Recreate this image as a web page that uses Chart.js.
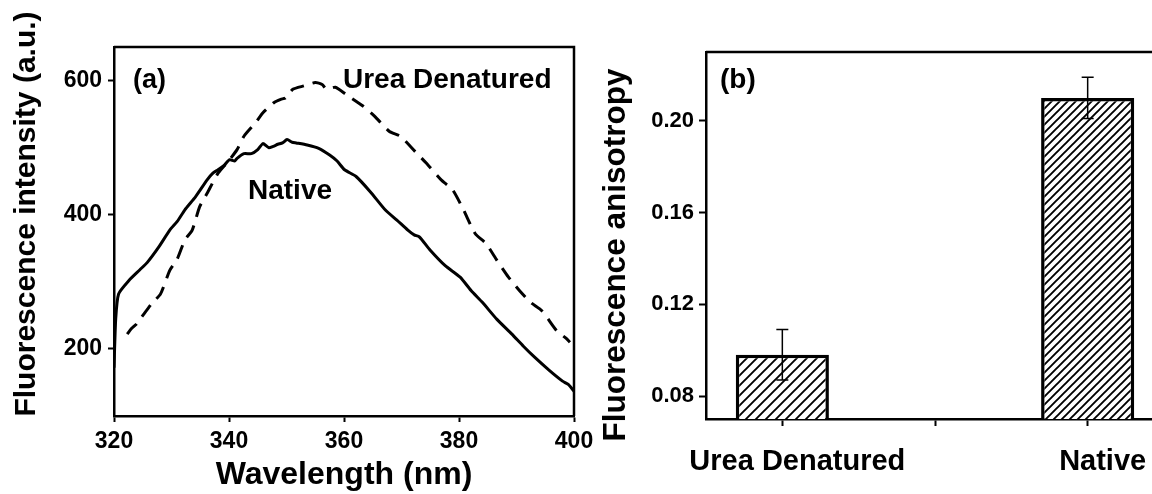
<!DOCTYPE html>
<html>
<head>
<meta charset="utf-8">
<script src="https://cdn.jsdelivr.net/npm/chart.js@4.4.1/dist/chart.umd.min.js"></script>
<style>
  html, body { margin: 0; padding: 0; background: #fff; overflow: hidden; }
  #wrap { position: relative; width: 1152px; height: 494px; overflow: hidden; }
  #spectra { position: absolute; left: 0; top: 0; }
  #aniso { position: absolute; left: 585px; top: 0; }
</style>
</head>
<body>
<div id="wrap">
  <canvas id="spectra" width="600" height="494"></canvas>
  <canvas id="aniso" width="600" height="494"></canvas>
</div>
<script>
// emission spectra (a)
const nativeWl = [320.0, 320.3, 320.8, 322.6, 324.5, 325.8, 327.8, 329.7, 331.0, 332.3, 334.2, 336.2, 337.2, 338.1, 339.2,
  340.1, 341.0, 341.4, 342.6, 343.9, 345.0, 345.9, 346.9, 347.7, 348.5, 349.3, 350.1, 351.0, 351.7, 353.6, 355.6, 357.5,
  358.8, 360.1, 362.1, 364.6, 367.2, 369.2, 371.1, 372.2, 373.1, 375.0, 377.6, 380.2, 382.1, 384.1, 386.6, 389.2, 391.2,
  393.1, 395.7, 398.0, 399.0, 400.0];
const nativeInt = [172, 245, 282, 302, 318, 329, 352, 377, 390, 407, 427, 452, 462, 467, 474,
  482, 480, 484, 491, 491, 497, 506, 500, 502, 505, 507, 512, 508, 507, 504, 499, 489,
  480, 467, 457, 434, 407, 392, 377, 370, 367, 347, 324, 307, 287, 269, 244, 222, 204,
  188, 168, 152, 147, 137];

const ureaWl = [322.3, 323.0, 323.9, 326.5, 328.1, 329.7, 331.0, 332.3, 333.6, 334.9, 336.2, 338.1, 340.1, 341.4, 342.6,
  344.6, 345.9, 347.8, 349.0, 349.8, 351.1, 353.0, 355.0, 356.2, 357.0, 358.5, 360.4, 363.3, 365.3, 367.9, 369.8, 372.4,
  374.3, 376.9, 378.9, 380.8, 382.8, 384.7, 386.6, 388.6, 390.5, 392.5, 394.4, 397.0, 398.6, 399.3];
const ureaInt = [222, 230, 237, 267, 282, 317, 334, 362, 377, 412, 432, 462, 482, 497, 517,
  537, 552, 567, 572, 574, 587, 592, 597, 594, 587, 590, 579, 562, 547, 524, 517, 494,
  477, 452, 437, 407, 372, 357, 332, 307, 287, 269, 257, 227, 216, 210];

const wlTicks = [320, 340, 360, 380, 400];
const intTicks = [200, 400, 600];

// anisotropy (b)
const states = ['Urea Denatured', '', 'Native'];
const anisotropy = [0.098, null, 0.210];
const anisotropyErr = [0.011, null, 0.009];
const anisoTicks = [0.08, 0.12, 0.16, 0.20];

const FONT = "'Liberation Sans', Arial, sans-serif";
Chart.defaults.font.family = FONT;
Chart.defaults.font.weight = 'bold';
Chart.defaults.color = '#000';

const toPoints = (xs, ys) => xs.map((x, i) => ({ x: x, y: ys[i] }));

function hatch(step) {
  const c = document.createElement('canvas');
  c.width = step; c.height = step;
  const g = c.getContext('2d');
  g.fillStyle = '#fff';
  g.fillRect(0, 0, step, step);
  g.strokeStyle = '#000';
  g.lineWidth = 1.9;
  g.beginPath();
  g.moveTo(-1, step + 1); g.lineTo(step + 1, -1);
  g.moveTo(-2, 2); g.lineTo(2, -2);
  g.moveTo(step - 2, step + 2); g.lineTo(step + 2, step - 2);
  g.stroke();
  return g.createPattern(c, 'repeat');
}

// top and right edges of the plot box
const frame = {
  id: 'frame',
  afterDatasetsDraw(chart) {
    const { ctx, chartArea: a } = chart;
    ctx.save();
    ctx.strokeStyle = '#000';
    ctx.lineWidth = 2.5;
    ctx.beginPath();
    ctx.moveTo(a.left, a.top);
    ctx.lineTo(a.right, a.top);
    ctx.lineTo(a.right, a.bottom);
    ctx.stroke();
    ctx.restore();
  }
};

// free text: axis titles and panel annotations
const texts = {
  id: 'texts',
  afterDraw(chart, args, opts) {
    const ctx = chart.ctx;
    (opts.items || []).forEach(t => {
      ctx.save();
      ctx.fillStyle = '#000';
      ctx.font = `bold ${t.size}px ${FONT}`;
      ctx.translate(t.x, t.y);
      if (t.rotate) ctx.rotate(t.rotate);
      ctx.textAlign = t.align || 'left';
      ctx.textBaseline = t.baseline || 'alphabetic';
      ctx.fillText(t.text, 0, 0);
      ctx.restore();
    });
  }
};

const errorBars = {
  id: 'errorBars',
  afterDatasetsDraw(chart, args, opts) {
    const meta = chart.getDatasetMeta(0);
    const ys = chart.scales.y;
    const ctx = chart.ctx;
    const vals = chart.data.datasets[0].data;
    ctx.save();
    ctx.strokeStyle = '#000';
    ctx.lineWidth = 1.5;
    meta.data.forEach((bar, i) => {
      const v = vals[i], e = opts.errors[i];
      if (v == null || e == null) return;
      const top = ys.getPixelForValue(v + e);
      const bot = ys.getPixelForValue(v - e);
      ctx.beginPath();
      ctx.moveTo(bar.x, top); ctx.lineTo(bar.x, bot);
      ctx.moveTo(bar.x - opts.cap, top); ctx.lineTo(bar.x + opts.cap, top);
      ctx.moveTo(bar.x - opts.cap, bot); ctx.lineTo(bar.x + opts.cap, bot);
      ctx.stroke();
    });
    ctx.restore();
  }
};

const axisStyle = {
  border: { color: '#000', width: 2.5 },
  grid: { drawOnChartArea: false, drawTicks: true, tickLength: 6, tickWidth: 2, tickColor: '#000' }
};

new Chart(document.getElementById('spectra'), {
  type: 'line',
  data: {
    datasets: [
      {
        label: 'Native',
        data: toPoints(nativeWl, nativeInt),
        borderColor: '#000',
        borderWidth: 3,
        pointRadius: 0,
        tension: 0.2
      },
      {
        label: 'Urea Denatured',
        data: toPoints(ureaWl, ureaInt),
        borderColor: '#000',
        borderWidth: 3,
        borderDash: [14, 9],
        pointRadius: 0,
        tension: 0.2
      }
    ]
  },
  options: {
    responsive: false,
    animation: false,
    layout: { padding: { left: 0, top: 47, right: 26, bottom: 0 } },
    plugins: {
      legend: { display: false },
      tooltip: { enabled: false },
      texts: {
        items: [
          { text: 'Fluorescence intensity (a.u.)', x: 27, y: 214, size: 30, rotate: -Math.PI / 2, align: 'center', baseline: 'middle' },
          { text: 'Wavelength (nm)', x: 344, y: 484, size: 32, align: 'center' },
          { text: '(a)', x: 133, y: 88, size: 27 },
          { text: 'Urea Denatured', x: 343, y: 88, size: 28 },
          { text: 'Native', x: 248, y: 199, size: 28 }
        ]
      }
    },
    scales: {
      x: {
        type: 'linear',
        min: 320,
        max: 400,
        ...axisStyle,
        afterBuildTicks: s => { s.ticks = wlTicks.map(v => ({ value: v })); },
        afterFit: s => { s.height = 78; },
        ticks: { font: { size: 23 }, padding: 6, maxRotation: 0 }
      },
      y: {
        min: 100,
        max: 650,
        ...axisStyle,
        afterBuildTicks: s => { s.ticks = intTicks.map(v => ({ value: v })); },
        afterFit: s => { s.width = 114; },
        ticks: { font: { size: 23 }, padding: 6 }
      }
    }
  },
  plugins: [frame, texts]
});

new Chart(document.getElementById('aniso'), {
  type: 'bar',
  data: {
    labels: states,
    datasets: [{
      data: anisotropy,
      backgroundColor: [hatch(10), '#fff', hatch(8)],
      borderColor: '#000',
      borderWidth: 3.5,
      barPercentage: 0.61,
      categoryPercentage: 1
    }]
  },
  options: {
    responsive: false,
    animation: false,
    layout: { padding: { left: 0, top: 52, right: 21, bottom: 0 } },
    plugins: {
      legend: { display: false },
      tooltip: { enabled: false },
      errorBars: { errors: anisotropyErr, cap: 6 },
      texts: {
        items: [
          { text: 'Fluorescence anisotropy', x: 31, y: 255, size: 31.5, rotate: -Math.PI / 2, align: 'center', baseline: 'middle' },
          { text: '(b)', x: 135, y: 88, size: 28 }
        ]
      }
    },
    scales: {
      x: {
        ...axisStyle,
        grid: { ...axisStyle.grid, offset: false, tickLength: 7 },
        afterFit: s => { s.height = 75; },
        ticks: { font: { size: 29 }, padding: 19, labelOffset: 15, maxRotation: 0, autoSkip: false }
      },
      y: {
        min: 0.07,
        max: 0.23,
        ...axisStyle,
        grid: { ...axisStyle.grid, tickLength: 7 },
        afterBuildTicks: s => { s.ticks = anisoTicks.map(v => ({ value: v })); },
        afterFit: s => { s.width = 121; },
        ticks: { font: { size: 22 }, padding: 5, callback: v => v.toFixed(2) }
      }
    }
  },
  plugins: [frame, texts, errorBars]
});
</script>
</body>
</html>
